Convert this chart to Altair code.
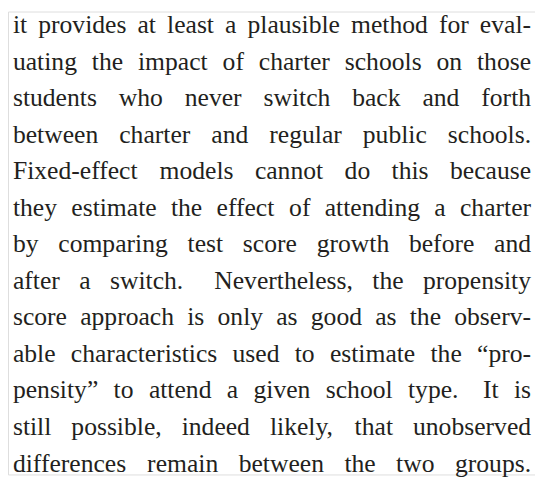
import altair as alt
import pandas as pd

# Text lines of the justified paragraph
LINES = [
    "it provides at least a plausible method for eval-",
    "uating the impact of charter schools on those",
    "students who never switch back and forth",
    "between charter and regular public schools.",
    "Fixed-effect models cannot do this because",
    "they estimate the effect of attending a charter",
    "by comparing test score growth before and",
    "after a switch.  Nevertheless, the propensity",
    "score approach is only as good as the observ-",
    "able characteristics used to estimate the \u201cpro-",
    "pensity\u201d to attend a given school type.  It is",
    "still possible, indeed likely, that unobserved",
    "differences remain between the two groups.",
]

FONT = "Liberation Serif"
SIZE = 26
COLOR = "#231f20"
W, H = 535, 470
LEFT, RIGHT = 5, 531
TOP_BASE, BOTTOM_BASE = 22, 467

# Times / Liberation Serif advance widths (1/1000 em)
ADV = {
    "a": 444, "b": 500, "c": 444, "d": 500, "e": 444, "f": 333, "g": 500,
    "h": 500, "i": 278, "j": 278, "k": 500, "l": 278, "m": 778, "n": 500,
    "o": 500, "p": 500, "q": 500, "r": 333, "s": 389, "t": 278, "u": 500,
    "v": 500, "w": 722, "x": 500, "y": 500, "z": 444, " ": 250, ".": 250,
    ",": 250, "-": 333, "\u201c": 444, "\u201d": 444, "F": 556, "N": 722,
    "I": 333,
}


def width(s):
    return sum(ADV.get(ch, 500) for ch in s) * SIZE / 1000.0


rows = []
target = RIGHT - LEFT
for li, line in enumerate(LINES):
    words = line.split()
    widths = [width(w) for w in words]
    weights = [1.6 if w.endswith(".") else 1.0 for w in words[:-1]]
    free = target - sum(widths)
    unit = free / sum(weights) if weights else 0
    x = LEFT
    for wi, (w, ww) in enumerate(zip(words, widths)):
        rows.append({"word": w, "line": li, "x": x})
        if wi < len(weights):
            x += ww + unit * weights[wi]

df = pd.DataFrame(rows)

chart = (
    alt.Chart(df)
    .mark_text(
        align="left",
        baseline="alphabetic",
        font=FONT,
        fontSize=SIZE,
        color=COLOR,
    )
    .encode(
        x=alt.X("x:Q", scale=alt.Scale(domain=[0, W], range=[0, W]), axis=None),
        y=alt.Y(
            "line:Q",
            scale=alt.Scale(domain=[0, len(LINES) - 1], range=[TOP_BASE, BOTTOM_BASE]),
            axis=None,
        ),
        text="word:N",
    )
    .properties(width=W, height=H, autosize=alt.AutoSizeParams(type="none"), padding=0)
    .configure_view(stroke="transparent", strokeWidth=0)
    .configure(background="white")
)

chart.save("out.html", embed_options={"renderer": "svg", "actions": False})
